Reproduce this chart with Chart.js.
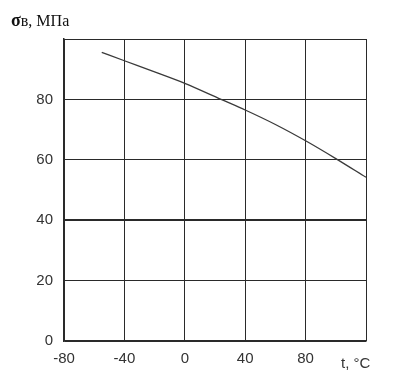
<!DOCTYPE html>
<html>
<head>
<meta charset="utf-8">
<script src="https://cdn.jsdelivr.net/npm/chart.js@4/dist/chart.umd.min.js"></script>
<style>
  html, body { margin: 0; padding: 0; background: #fff; }
  #wrap { width: 405px; height: 376px; }
</style>
</head>
<body>
<div id="wrap"><canvas id="strengthChart" width="405" height="376"></canvas></div>
<script>
// Tensile strength vs temperature

const temps = [-55, -40, -20, 0, 24, 40, 60, 80, 100, 120];
const strength = [95.6, 92.8, 89.1, 85.3, 80, 76.5, 71.7, 66.3, 60.4, 54.2];

const xTicks = [-80, -40, 0, 40, 80, 120];
const yTicks = [0, 20, 40, 60, 80, 100];

const gridColor = '#2a2a2a';
const labelFont = '"Liberation Sans", Arial, sans-serif';

// extra captions: axis names in the corners
const captions = {
  id: 'captions',
  afterDraw(chart) {
    const c = chart.ctx;
    c.save();
    c.fillStyle = '#111';
    c.textBaseline = 'alphabetic';
    c.font = 'bold 18px "Liberation Serif", serif';
    c.fillText('σ', 11, 26);
    let w = c.measureText('σ').width;
    c.font = '16px "Liberation Serif", serif';
    c.fillText('в, МПа', 11 + w, 26);
    c.font = '15px ' + labelFont;
    c.fillStyle = '#333';
    c.fillText('t, °C', 341, 368);
    c.restore();
  }
};

new Chart(document.getElementById('strengthChart'), {
  type: 'line',
  data: {
    datasets: [{
      data: temps.map((t, i) => ({ x: t, y: strength[i] })),
      borderColor: '#3a3a3a',
      borderWidth: 1.3,
      pointRadius: 0,
      cubicInterpolationMode: 'monotone',
      fill: false
    }]
  },
  options: {
    responsive: false,
    animation: false,
    layout: { padding: { top: 39, right: 39, left: 0, bottom: 0 } },
    plugins: {
      legend: { display: false },
      tooltip: { enabled: false }
    },
    scales: {
      x: {
        type: 'linear',
        min: -80,
        max: 120,
        afterBuildTicks: axis => { axis.ticks = xTicks.map(v => ({ value: v })); },
        afterFit: axis => { axis.height = 35; },
        grid: { color: gridColor, lineWidth: 1, drawTicks: false },
        border: { color: gridColor, width: 1.5 },
        ticks: {
          padding: 9,
          color: '#333',
          font: { family: labelFont, size: 15 },
          callback: v => v === 120 ? '' : v
        }
      },
      y: {
        min: 0,
        max: 100,
        afterBuildTicks: axis => { axis.ticks = yTicks.map(v => ({ value: v })); },
        afterFit: axis => { axis.width = 64; },
        grid: {
          color: gridColor,
          lineWidth: ctx => ctx.tick && ctx.tick.value === 40 ? 2 : 1,
          drawTicks: false
        },
        border: { color: gridColor, width: 1.5 },
        ticks: {
          padding: 11,
          color: '#333',
          font: { family: labelFont, size: 15 },
          callback: v => v === 100 ? '' : v
        }
      }
    }
  },
  plugins: [captions]
});
</script>
</body>
</html>
